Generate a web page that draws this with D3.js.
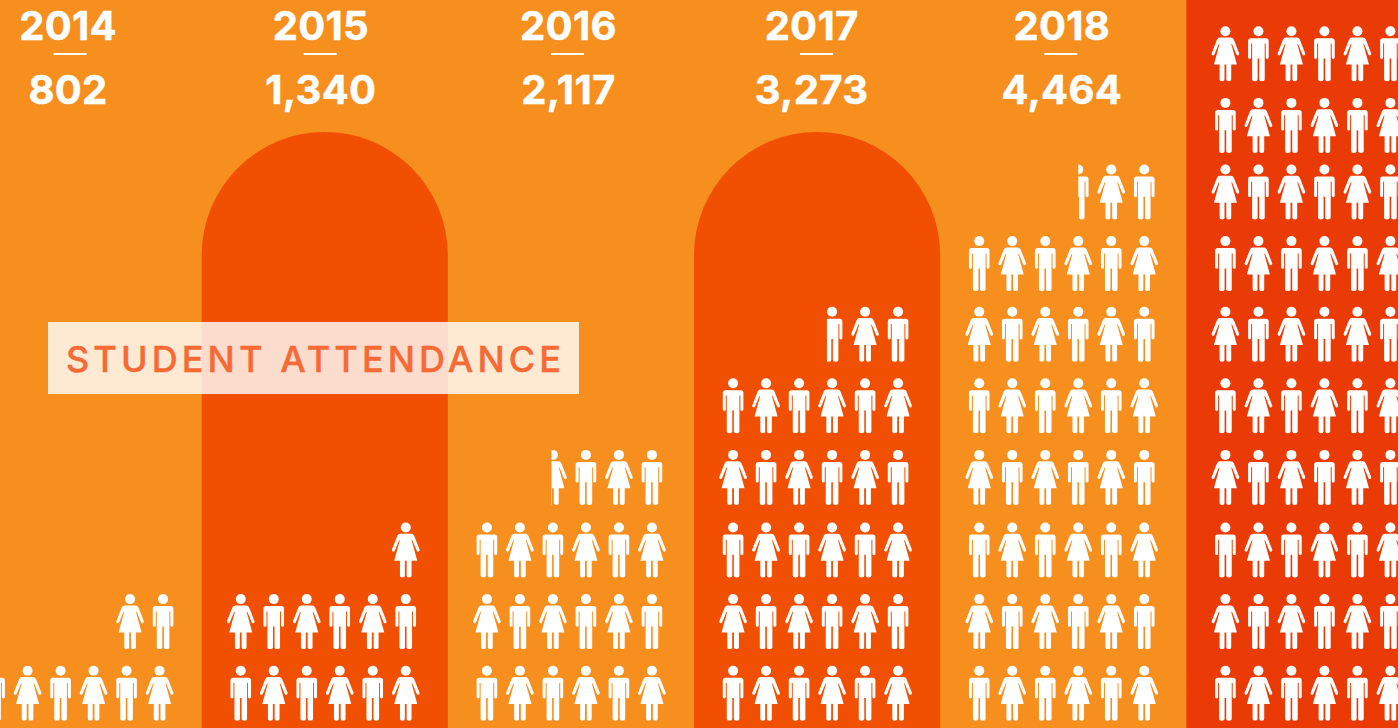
<!DOCTYPE html>
<html>
<head>
<meta charset="utf-8">
<script src="https://cdn.jsdelivr.net/npm/d3@7"></script>
<style>
  html, body { margin: 0; padding: 0; background: #f78f1f; overflow: hidden; }
  svg { display: block; }
  text { font-family: Inter, "Open Sans", sans-serif; }
</style>
</head>
<body>
<div id="chart"></div>
<script>
// values
const years = ['2014', '2015', '2016', '2017', '2018', '2019'];
const attendanceLabels = ['802', '1,340', '2,117', '3,273', '4,464'];
const wholeIcons = [8, 13, 21, 32, 44, 60];
const partialShown = [0, 0, 0.55, 0.75, 0.5, 0];
const chartTitle = 'STUDENT ATTENDANCE';

const width = 1398, height = 728;
const perRow = 6;

// layout tweaks for the hand placed labels and rows
const labelShift = [-10.5, -4, -2.5, -5.5, -1.5];
const dashShift = [-8.5, -4.5, -3.5, -0.5, -2.5];
const rowNudge = [0, 0, 0, -1, -1, -1, 0, 0, 5, 5];
const bandFill = ['none', '#f15003', 'none', '#f15003', 'none', '#ea3a06'];

const svg = d3.select('#chart').append('svg')
    .attr('width', width)
    .attr('height', height);

const x = d3.scaleBand().domain(years).range([-44.5, 1432.5]);
const col = d3.scaleLinear().domain([0, perRow - 1]).range([-84, 81]);
const rowY = d3.scaleLinear().domain([0, 7]).range([666, 164.8]);

const manPath = 'M-7.6,11.7L7.6,11.7Q10.3,11.7 10.3,14.4L10.3,31Q10.3,32.4 8.8,32.4Q7.3,32.4 7.3,31L7.3,17L6.3,17L6.3,53Q6.3,54.7 3.5,54.7Q0.8,54.7 0.8,53L0.8,32L-0.8,32L-0.8,53Q-0.8,54.7 -3.5,54.7Q-6.3,54.7 -6.3,53L-6.3,17L-7.3,17L-7.3,31Q-7.3,32.4 -8.8,32.4Q-10.3,32.4 -10.3,31L-10.3,14.4Q-10.3,11.7 -7.6,11.7Z';
const womanPath = 'M-5.5,11L5.5,11Q7.5,11 8.4,13L13.8,26.8Q14.2,28 13,28.7Q11.8,29.2 11,28L6.6,17.4L5.9,17.5L11.5,38L5.8,38L5.8,53Q5.8,54.7 3.3,54.7Q0.9,54.7 0.9,53L0.9,38L-0.9,38L-0.9,53Q-0.9,54.7 -3.3,54.7Q-5.8,54.7 -5.8,53L-5.8,38L-11.5,38L-5.9,17.5L-6.6,17.4L-11,28Q-11.8,29.2 -13,28.7Q-14.2,28 -13.8,26.8L-8.4,13Q-7.5,11 -5.5,11Z';

// colored columns, 2015 and 2017 have the round top
years.forEach((year, i) => {
    if (bandFill[i] === 'none') return;
    const r = x.bandwidth() / 2;
    const x0 = x(year), x1 = x0 + x.bandwidth();
    const d = i === 5
        ? `M${x0},0H${x1}V${height}H${x0}Z`
        : `M${x0},${height}V${132 + r}A${r},${r} 0 0 1 ${x1},${132 + r}V${height}Z`;
    svg.append('path').attr('d', d).attr('fill', bandFill[i]);
});

// one record per icon, filled from the bottom row, right aligned
const icons = [];
years.forEach((year, i) => {
    const total = wholeIcons[i] + (partialShown[i] > 0 ? 1 : 0);
    for (let n = 0; n < total; n++) {
        const row = Math.floor(n / perRow);
        const c = perRow - 1 - (n % perRow);
        const isMan = (row + c) % 2 === 0;
        const partial = n === total - 1 && partialShown[i] > 0 ? partialShown[i] : 0;
        icons.push({ year, i, row, c, isMan, partial });
    }
});

const iconX = d => x(d.year) + x.bandwidth() / 2 + col(d.c) + (d.i === 0 && d.row === 1 ? 3.5 : 0);
const iconY = d => rowY(d.row) + rowNudge[d.row];

const defs = svg.append('defs');
icons.filter(d => d.partial).forEach(d => {
    const w = d.isMan ? 10.3 : 13.8;
    defs.append('clipPath').attr('id', 'cut' + d.year)
        .append('rect')
        .attr('x', w - 2 * w * d.partial)
        .attr('y', -2)
        .attr('width', 2 * w * d.partial + 1)
        .attr('height', 60);
});

const iconG = svg.append('g').selectAll('g')
    .data(icons)
    .join('g')
    .attr('transform', d => `translate(${iconX(d)},${iconY(d)})`)
    .attr('clip-path', d => d.partial ? `url(#cut${d.year})` : null)
    .attr('fill', '#fff');

iconG.append('circle').attr('cy', 4.7).attr('r', 5);
iconG.append('path').attr('d', d => d.isMan ? manPath : womanPath);

// year, dash, attendance
const heads = svg.append('g').selectAll('g')
    .data(years.slice(0, 5))
    .join('g')
    .attr('fill', '#fff');

heads.append('text')
    .attr('x', (d, i) => x(d) + x.bandwidth() / 2 + labelShift[i])
    .attr('y', 39.5)
    .attr('text-anchor', 'middle')
    .attr('font-size', 40)
    .attr('font-weight', 700)
    .attr('letter-spacing', 0.3)
    .attr('stroke', '#fff')
    .attr('stroke-width', 0.5)
    .text(d => d);

heads.append('rect')
    .attr('x', (d, i) => x(d) + x.bandwidth() / 2 + dashShift[i] - 16.5)
    .attr('y', 53)
    .attr('width', 33)
    .attr('height', 2);

heads.append('text')
    .attr('x', (d, i) => x(d) + x.bandwidth() / 2 + labelShift[i])
    .attr('y', 103.5)
    .attr('text-anchor', 'middle')
    .attr('font-size', 40)
    .attr('font-weight', 700)
    .attr('letter-spacing', 0.3)
    .attr('stroke', '#fff')
    .attr('stroke-width', 0.5)
    .text((d, i) => attendanceLabels[i]);

// title box sits over the columns
svg.append('rect')
    .attr('x', 48).attr('y', 322)
    .attr('width', 531).attr('height', 72)
    .attr('fill', '#fff').attr('opacity', 0.8);

svg.append('text')
    .attr('x', 66).attr('y', 372)
    .attr('font-size', 36)
    .attr('font-weight', 500)
    .attr('letter-spacing', 4.1)
    .attr('fill', '#f56a35')
    .attr('stroke', '#f56a35')
    .attr('stroke-width', 0.4)
    .text(chartTitle);
</script>
</body>
</html>
